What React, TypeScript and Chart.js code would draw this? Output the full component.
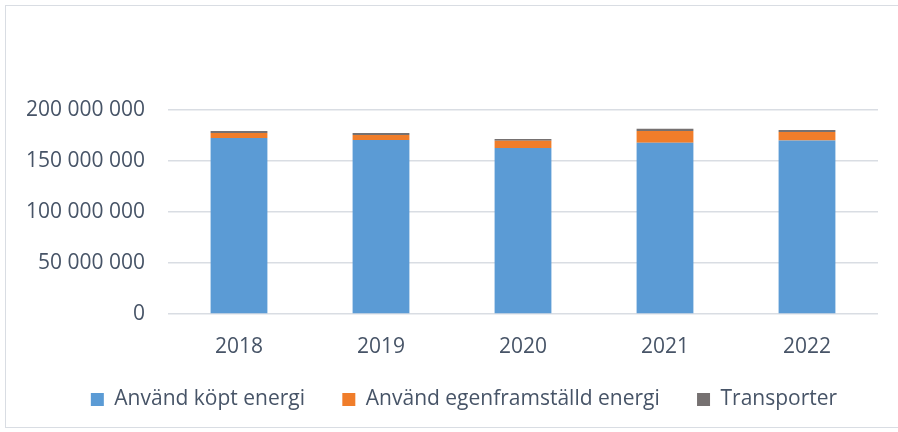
import React, { useEffect, useRef } from "react";
import { Chart, registerables } from "chart.js";

Chart.register(...registerables);

const years = ["2018", "2019", "2020", "2021", "2022"];
const kopt = [172500000, 170600000, 162700000, 168000000, 170000000];
const egen = [5000000, 4900000, 7200000, 11500000, 8500000];
const transporter = [2000000, 2000000, 1700000, 2000000, 2000000];
const seriesNames = ["Använd köpt energi", "Använd egenframställd energi", "Transporter"];
const yMax = 200000000;
const yStep = 50000000;

const textColor = "#475467";
const gridColor = "#d9dde3";
const spacer = "\u00A0\u00A0\u00A0\u00A0\u00A0";

function fmt(v: number): string {
  return String(Math.round(v)).replace(/\B(?=(\d{3})+(?!\d))/g, " ");
}

const shiftLegend = {
  id: "shiftLegend",
  afterLayout(chart: any) {
    const lg = chart.legend;
    if (lg) {
      lg.left += 25;
      lg.right += 25;
    }
  },
};

export default function App() {
  const ref = useRef<HTMLCanvasElement | null>(null);

  useEffect(() => {
    if (!ref.current) return;
    const chart = new Chart(ref.current, {
      type: "bar",
      data: {
        labels: years,
        datasets: [
          { label: seriesNames[0], data: kopt, backgroundColor: "#5B9BD5" },
          { label: seriesNames[1], data: egen, backgroundColor: "#F07D2A" },
          { label: seriesNames[2], data: transporter, backgroundColor: "#767171" },
        ],
      },
      plugins: [shiftLegend],
      options: {
        animation: false,
        responsive: false,
        devicePixelRatio: 1,
        layout: { padding: { left: 0, right: 20, top: 110, bottom: 12 } },
        datasets: { bar: { barPercentage: 0.4, categoryPercentage: 1 } },
        plugins: {
          legend: {
            position: "bottom",
            labels: {
              color: textColor,
              font: { family: "Open Sans", size: 21 },
              boxWidth: 13,
              boxHeight: 13,
              padding: 10,
              generateLabels: (c: any) => {
                const items = Chart.defaults.plugins.legend.labels.generateLabels(c);
                return items.map((it: any, i: number) => ({
                  ...it,
                  lineWidth: 0,
                  text: i < items.length - 1 ? it.text + spacer : it.text,
                }));
              },
            },
          },
          tooltip: { enabled: false },
        },
        scales: {
          x: {
            stacked: true,
            grid: { display: false },
            border: { display: false },
            ticks: { color: textColor, font: { family: "Open Sans", size: 21 }, padding: 12 },
            afterFit: (s: any) => {
              s.height = 65;
            },
          },
          y: {
            stacked: true,
            min: 0,
            max: yMax,
            ticks: {
              stepSize: yStep,
              color: textColor,
              font: { family: "Open Sans", size: 21 },
              padding: 23,
              callback: (v: any) => fmt(Number(v)),
            },
            grid: { color: gridColor, lineWidth: 1.5, drawTicks: false },
            border: { display: false },
            afterFit: (s: any) => {
              s.width = 168;
            },
          },
        },
      },
    });
    return () => chart.destroy();
  }, []);

  return (
    <div style={{ position: "fixed", left: 0, top: 0, width: 898, height: 432, background: "#fff", overflow: "hidden" }}>
      <div
        style={{
          position: "absolute",
          left: 5,
          top: 5,
          width: 900,
          height: 423,
          border: "1px solid #d9dde3",
          boxSizing: "border-box",
        }}
      />
      <canvas ref={ref} width={898} height={432} style={{ position: "absolute", left: 0, top: 0 }} />
    </div>
  );
}
